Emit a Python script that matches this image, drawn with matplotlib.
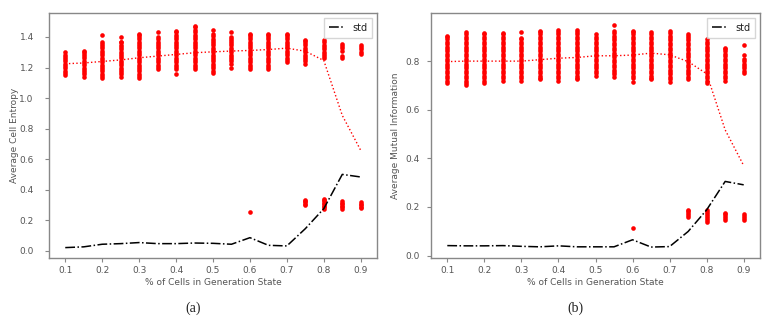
import matplotlib.pyplot as plt
import numpy as np

# x positions (% of cells in generation state)
pct = [0.1, 0.15, 0.2, 0.25, 0.3, 0.35, 0.4, 0.45, 0.5,
       0.55, 0.6, 0.65, 0.7, 0.75, 0.8, 0.85, 0.9]

# (a) average cell entropy: value of each run, per x
entropy_runs = [
    [1.15, 1.165, 1.18, 1.195, 1.21, 1.225, 1.24, 1.255, 1.27, 1.285, 1.30],
    [1.14, 1.155, 1.17, 1.185, 1.20, 1.215, 1.23, 1.245, 1.26, 1.275, 1.29, 1.305, 1.31],
    [1.13, 1.145, 1.16, 1.175, 1.19, 1.205, 1.22, 1.235, 1.25, 1.265, 1.28, 1.295, 1.31,
     1.325, 1.34, 1.355, 1.37, 1.41],
    [1.14, 1.155, 1.17, 1.185, 1.20, 1.215, 1.23, 1.245, 1.26, 1.275, 1.29, 1.305, 1.32,
     1.335, 1.35, 1.365, 1.37, 1.40],
    [1.13, 1.145, 1.16, 1.175, 1.19, 1.205, 1.22, 1.235, 1.25, 1.265, 1.28, 1.295, 1.31,
     1.325, 1.34, 1.355, 1.37, 1.385, 1.40, 1.415, 1.42],
    [1.19, 1.205, 1.22, 1.235, 1.25, 1.265, 1.28, 1.295, 1.31, 1.325, 1.34, 1.355, 1.37,
     1.385, 1.40, 1.43],
    [1.16, 1.19, 1.205, 1.22, 1.235, 1.25, 1.265, 1.28, 1.295, 1.31, 1.325, 1.34, 1.355,
     1.37, 1.385, 1.40, 1.415, 1.43, 1.44],
    [1.19, 1.205, 1.22, 1.235, 1.25, 1.265, 1.28, 1.295, 1.31, 1.325, 1.34, 1.355, 1.37,
     1.385, 1.40, 1.415, 1.43, 1.445, 1.465, 1.475],
    [1.165, 1.18, 1.195, 1.21, 1.225, 1.24, 1.255, 1.27, 1.285, 1.30, 1.315, 1.33, 1.345,
     1.36, 1.375, 1.39, 1.405, 1.42, 1.443],
    [1.20, 1.225, 1.24, 1.255, 1.27, 1.285, 1.30, 1.315, 1.33, 1.345, 1.36, 1.375, 1.39,
     1.40, 1.43],
    [1.19, 1.205, 1.22, 1.235, 1.25, 1.265, 1.28, 1.295, 1.31, 1.325, 1.34, 1.355, 1.37,
     1.385, 1.40, 1.415, 1.42, 0.255],
    [1.19, 1.205, 1.22, 1.235, 1.25, 1.265, 1.28, 1.295, 1.31, 1.325, 1.34, 1.355, 1.37,
     1.385, 1.40, 1.415, 1.42],
    [1.235, 1.25, 1.265, 1.28, 1.295, 1.31, 1.325, 1.34, 1.355, 1.37, 1.385, 1.40, 1.415,
     1.42],
    [1.225, 1.24, 1.255, 1.27, 1.285, 1.30, 1.315, 1.33, 1.345, 1.36, 1.375, 1.38,
     0.30, 0.31, 0.32, 0.33, 0.335],
    [1.26, 1.275, 1.29, 1.305, 1.32, 1.335, 1.35, 1.365, 1.38,
     0.275, 0.285, 0.295, 0.305, 0.315, 0.325, 0.335, 0.34],
    [1.26, 1.275, 1.31, 1.325, 1.34, 1.355,
     0.275, 0.285, 0.295, 0.305, 0.315, 0.325],
    [1.29, 1.305, 1.32, 1.335, 1.345,
     0.28, 0.29, 0.30, 0.31, 0.32],
]
entropy_mean = [1.225, 1.23, 1.24, 1.25, 1.264, 1.275, 1.286, 1.297, 1.303,
                1.308, 1.312, 1.318, 1.327, 1.307, 1.246, 0.887, 0.658]
entropy_std = [0.022, 0.027, 0.044, 0.048, 0.055, 0.048, 0.048, 0.052, 0.050,
               0.044, 0.087, 0.037, 0.033, 0.146, 0.277, 0.501, 0.484]

# (b) average mutual information
mi_runs = [
    [0.71, 0.72, 0.73, 0.74, 0.75, 0.76, 0.77, 0.78, 0.79, 0.80, 0.81, 0.82, 0.83, 0.84,
     0.85, 0.86, 0.87, 0.88, 0.89, 0.90, 0.905],
    [0.70, 0.71, 0.72, 0.73, 0.74, 0.75, 0.76, 0.77, 0.78, 0.79, 0.80, 0.81, 0.82, 0.83,
     0.84, 0.85, 0.86, 0.87, 0.88, 0.89, 0.90, 0.91, 0.92],
    [0.71, 0.72, 0.73, 0.74, 0.75, 0.76, 0.77, 0.78, 0.79, 0.80, 0.81, 0.82, 0.83, 0.84,
     0.85, 0.86, 0.87, 0.88, 0.89, 0.90, 0.91, 0.915],
    [0.72, 0.73, 0.74, 0.75, 0.76, 0.77, 0.78, 0.79, 0.80, 0.81, 0.82, 0.83, 0.84, 0.85,
     0.86, 0.87, 0.88, 0.89, 0.90, 0.91, 0.915],
    [0.72, 0.73, 0.74, 0.75, 0.76, 0.77, 0.78, 0.79, 0.80, 0.81, 0.82, 0.83, 0.84, 0.85,
     0.86, 0.87, 0.88, 0.89, 0.895, 0.92],
    [0.725, 0.73, 0.74, 0.75, 0.76, 0.77, 0.78, 0.79, 0.80, 0.81, 0.82, 0.83, 0.84, 0.85,
     0.86, 0.87, 0.88, 0.89, 0.90, 0.91, 0.92, 0.925],
    [0.72, 0.73, 0.74, 0.75, 0.76, 0.77, 0.78, 0.79, 0.80, 0.81, 0.82, 0.83, 0.84, 0.85,
     0.86, 0.87, 0.88, 0.89, 0.90, 0.91, 0.92, 0.93],
    [0.725, 0.73, 0.74, 0.75, 0.76, 0.77, 0.78, 0.79, 0.80, 0.81, 0.82, 0.83, 0.84, 0.85,
     0.86, 0.87, 0.88, 0.89, 0.90, 0.91, 0.92, 0.93],
    [0.74, 0.75, 0.76, 0.77, 0.78, 0.79, 0.80, 0.81, 0.82, 0.83, 0.84, 0.85, 0.86, 0.87,
     0.88, 0.89, 0.90, 0.91],
    [0.735, 0.745, 0.755, 0.765, 0.775, 0.785, 0.795, 0.805, 0.815, 0.825, 0.835, 0.845,
     0.855, 0.865, 0.875, 0.885, 0.895, 0.905, 0.915, 0.925, 0.948],
    [0.715, 0.73, 0.74, 0.75, 0.76, 0.77, 0.78, 0.79, 0.80, 0.81, 0.82, 0.83, 0.84, 0.85,
     0.86, 0.87, 0.88, 0.89, 0.90, 0.91, 0.92, 0.925, 0.115],
    [0.725, 0.73, 0.74, 0.75, 0.76, 0.77, 0.78, 0.79, 0.80, 0.81, 0.82, 0.83, 0.84, 0.85,
     0.86, 0.87, 0.88, 0.89, 0.90, 0.91, 0.92],
    [0.715, 0.725, 0.735, 0.745, 0.755, 0.765, 0.775, 0.785, 0.795, 0.805, 0.815, 0.825,
     0.835, 0.845, 0.855, 0.865, 0.875, 0.885, 0.895, 0.905, 0.915, 0.925],
    [0.725, 0.735, 0.745, 0.755, 0.765, 0.775, 0.785, 0.795, 0.805, 0.815, 0.825, 0.835,
     0.845, 0.855, 0.865, 0.875, 0.885, 0.895, 0.905, 0.91,
     0.16, 0.167, 0.175, 0.182, 0.187],
    [0.71, 0.72, 0.73, 0.74, 0.75, 0.76, 0.77, 0.78, 0.79, 0.80, 0.81, 0.82, 0.83, 0.84,
     0.85, 0.86, 0.87, 0.88, 0.89,
     0.14, 0.148, 0.156, 0.164, 0.172, 0.18, 0.188],
    [0.72, 0.73, 0.74, 0.75, 0.76, 0.77, 0.78, 0.79, 0.80, 0.81, 0.82, 0.83, 0.84, 0.85,
     0.855, 0.145, 0.153, 0.161, 0.169, 0.176],
    [0.75, 0.76, 0.77, 0.78, 0.79, 0.80, 0.81, 0.825, 0.865,
     0.148, 0.156, 0.164, 0.172],
]
mi_mean = [0.798, 0.80, 0.80, 0.80, 0.80, 0.806, 0.812, 0.815, 0.822,
           0.822, 0.825, 0.833, 0.826, 0.798, 0.748, 0.517, 0.37]
mi_std = [0.041, 0.040, 0.040, 0.041, 0.038, 0.036, 0.040, 0.036, 0.036,
          0.036, 0.065, 0.035, 0.037, 0.099, 0.188, 0.305, 0.291]

GRAY = '#555555'


def panel(ax, runs, mean, std, ylabel, ylim, yticks, ypad, ylab_x):
    """ Scatter of all runs, dotted mean and dash-dot std. """
    xs, ys = [], []
    for x, vals in zip(pct, runs):
        xs += [x] * len(vals)
        ys += vals
    ax.scatter(xs, ys, s=11, color='red', linewidths=0, zorder=2)
    ax.plot(pct, mean, color='red', linestyle=':', linewidth=1.0, zorder=3)
    ax.plot(pct, std, color='black', linestyle='-.', linewidth=1.1, label='std', zorder=3)
    ax.set_xlim(0.056, 0.944)
    ax.set_ylim(*ylim)
    ax.set_xticks(np.arange(1, 10) / 10)
    ax.set_yticks(yticks)
    ax.set_xlabel('% of Cells in Generation State', fontsize=6.5, color=GRAY, labelpad=2)
    ax.set_ylabel(ylabel, fontsize=6.5, color=GRAY)
    ax.yaxis.set_label_coords(ylab_x, 0.5)
    for sp in ax.spines.values():
        sp.set_color('#888888')
        sp.set_linewidth(1.0)
    ax.tick_params(axis='both', colors='#888888', labelcolor=GRAY, labelsize=6.5,
                   length=3, width=0.8)
    ax.tick_params(axis='y', pad=ypad)
    ax.tick_params(axis='x', pad=3)
    leg = ax.legend(loc='upper right', fontsize=7, handlelength=1.6,
                    fancybox=False, borderpad=0.5)
    leg.get_frame().set_edgecolor('#cccccc')
    for t in leg.get_texts():
        t.set_color('#222222')


fig = plt.figure(figsize=(7.71, 3.22), dpi=100)
ax1 = fig.add_axes([49 / 771, 64 / 322, 328 / 771, 245 / 322])
ax2 = fig.add_axes([431 / 771, 64 / 322, 329 / 771, 245 / 322])

panel(ax1, entropy_runs, entropy_mean, entropy_std, 'Average Cell Entropy',
      (-0.046, 1.557), [0.0, 0.2, 0.4, 0.6, 0.8, 1.0, 1.2, 1.4], 8, -0.092)
panel(ax2, mi_runs, mi_mean, mi_std, 'Average Mutual Information',
      (-0.01, 0.998), [0.0, 0.2, 0.4, 0.6, 0.8], 5, -0.094)

fig.text(0.25, 0.043, '(a)', family='Liberation Serif', fontsize=10,
         ha='center', va='center', color='#222222')
fig.text(0.746, 0.043, '(b)', family='Liberation Serif', fontsize=10,
         ha='center', va='center', color='#222222')

fig.savefig('out.png', dpi=100)
